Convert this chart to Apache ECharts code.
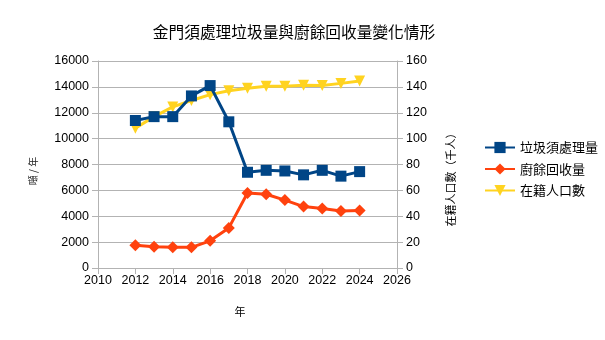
<!DOCTYPE html>
<html><head><meta charset="utf-8">
<script src="https://cdn.jsdelivr.net/npm/echarts@6/dist/echarts.min.js"></script>
<style>html,body{margin:0;padding:0;background:#fff}#c{width:605px;height:340px}</style>
</head><body><div id="c"></div>
<script>
const years = [2012,2013,2014,2015,2016,2017,2018,2019,2020,2021,2022,2023,2024];
const garbage = [11400,11700,11700,13300,14100,11300,7400,7550,7500,7200,7550,7100,7450];
const foodWaste = [1750,1650,1600,1600,2100,3100,5800,5700,5250,4750,4600,4400,4450];
const population = [108,117,124.5,129.5,134,137,139,140.5,140.5,141.3,141,142.7,144.5];
const seriesNames = ['垃圾須處理量','廚餘回收量','在籍人口數'];
const colors = ['#004586','#ff420e','#ffd320'];
const titleText = '金門須處理垃圾量與廚餘回收量變化情形';
const xName = '年';
const yLeftName = '噸 / 年';
const yRightName = '在籍人口數（千人）';

const font = "'Liberation Sans', 'Noto Sans CJK TC', sans-serif";
const cjk = "'Noto Sans CJK TC', sans-serif";
const pair = (xs, ys) => xs.map((x, i) => [x, ys[i]]);
const axisGray = '#b3b3b3';
const plain = v => String(v);

const chart = echarts.init(document.getElementById('c'));
chart.setOption({
  animation: false,
  title: {text: titleText, left: 289, top: 19, textAlign: 'center',
    textStyle: {fontFamily: cjk, fontSize: 15.7, fontWeight: 'normal', color: '#000'}},
  grid: {left: 98, right: 208, top: 61, bottom: 72},
  legend: {
    orient: 'vertical', left: 479, top: 136, itemGap: 8.5, itemWidth: 30, itemHeight: 14,
    data: seriesNames,
    textStyle: {fontFamily: cjk, fontSize: 13, color: '#000'}
  },
  graphic: [
    {type: 'text', x: 240, y: 312, style: {text: xName, fontFamily: cjk, fontSize: 11, fill: '#000', align: 'center', verticalAlign: 'middle'}},
    {type: 'text', x: 33, y: 171, rotation: Math.PI / 2, style: {text: yLeftName, fontFamily: cjk, fontSize: 10, fill: '#222', align: 'center', verticalAlign: 'middle'}},
    {type: 'text', x: 451, y: 177, rotation: Math.PI / 2, style: {text: yRightName, fontFamily: cjk, fontSize: 11, fill: '#000', align: 'center', verticalAlign: 'middle'}}
  ],
  xAxis: {
    type: 'value', min: 2010, max: 2026, interval: 2,
    axisLine: {show: true, lineStyle: {color: axisGray}},
    axisTick: {show: true, length: 6, lineStyle: {color: axisGray}},
    splitLine: {show: false},
    axisLabel: {fontFamily: font, fontSize: 12.5, color: '#000', margin: 6, formatter: plain}
  },
  yAxis: [{
    type: 'value', min: 0, max: 16000, interval: 2000, position: 'left',
    axisLine: {show: true, lineStyle: {color: axisGray}},
    axisTick: {show: true, length: 6, lineStyle: {color: axisGray}},
    splitLine: {show: true, lineStyle: {color: axisGray}},
    axisLabel: {fontFamily: font, fontSize: 12.5, color: '#000', margin: 9, formatter: plain}
  }, {
    type: 'value', min: 0, max: 160, interval: 20, position: 'right',
    axisLine: {show: true, lineStyle: {color: axisGray}},
    axisTick: {show: true, length: 6, lineStyle: {color: axisGray}},
    splitLine: {show: false},
    axisLabel: {fontFamily: font, fontSize: 12.5, color: '#000', margin: 9, formatter: plain}
  }],
  series: [{
    name: seriesNames[0], type: 'line', yAxisIndex: 0, z: 5,
    data: pair(years, garbage), color: colors[0],
    symbol: 'rect', symbolSize: 11, showAllSymbol: true,
    lineStyle: {width: 3, color: colors[0]}, itemStyle: {color: colors[0]}
  }, {
    name: seriesNames[1], type: 'line', yAxisIndex: 0, z: 3,
    data: pair(years, foodWaste), color: colors[1],
    symbol: 'diamond', symbolSize: 12, showAllSymbol: true,
    lineStyle: {width: 3, color: colors[1]}, itemStyle: {color: colors[1]}
  }, {
    name: seriesNames[2], type: 'line', yAxisIndex: 1, z: 4,
    data: pair(years, population), color: colors[2],
    symbol: 'triangle', symbolRotate: 180, symbolSize: 11, showAllSymbol: true,
    lineStyle: {width: 3, color: colors[2]}, itemStyle: {color: colors[2]}
  }]
});
</script></body></html>
